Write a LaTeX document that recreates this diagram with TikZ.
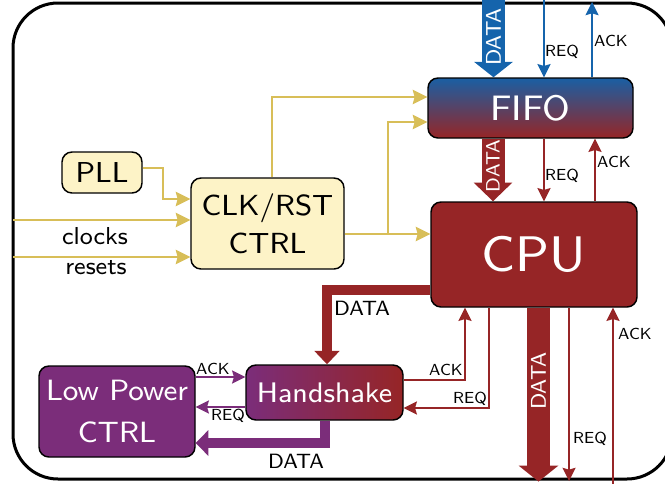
\documentclass[tikz,border=0pt]{standalone}
\usepackage{fontspec}
\setsansfont{lmsans8-regular.otf}
\usetikzlibrary{arrows.meta}
\definecolor{cpured}{HTML}{962526}
\definecolor{fifoblue}{HTML}{1A5FA3}
\definecolor{arrblue}{HTML}{1564AC}
\definecolor{lppurple}{HTML}{7B2D7A}
\definecolor{ylwline}{HTML}{D8BE58}
\definecolor{ylwfill}{HTML}{FDF3C7}
\newcommand{\fs}[2]{\fontsize{#1}{#2}\selectfont}
\begin{document}
\begin{tikzpicture}[x=0.75pt,y=-0.75pt,font=\sffamily,
  box/.style={draw=black,line width=1.1pt,rounded corners=7.5pt,inner sep=0pt,align=center},
  thin/.style={line width=1.7pt,-{Stealth[length=10pt,width=10pt,inset=1.5pt,line width=0pt]}},
  ylw/.style={draw=ylwline,line width=2pt,-{Stealth[length=11pt,width=11pt,inset=1.5pt,line width=0pt]}},
  lbl/.style={font=\sffamily\fs{12}{14},inner sep=0pt},
  wlbl/.style={text=white,rotate=90,inner sep=0pt},
]
\useasboundingbox (0,0) rectangle (665,483);
% outer frame
\draw[line width=2.25pt,rounded corners=33.75pt] (13,3) rectangle (672,479);

% nodes
\node[box,top color=fifoblue,bottom color=cpured,minimum width=153.75pt,minimum height=45pt,
      text=white,font=\sffamily\fs{26.5}{30}] (fifo) at (530.5,108) {FIFO};
\node[box,fill=cpured,minimum width=154.5pt,minimum height=78.75pt,
      text=white,font=\sffamily\fs{37.5}{44}] (cpu) at (534,254.5) {CPU};
\node[box,fill=ylwfill,minimum width=114.75pt,minimum height=68.25pt,
      font=\sffamily\fs{21.8}{28.5}] (clk) at (267.5,223.5) {CLK/RST\\CTRL};
\node[box,fill=ylwfill,minimum width=60pt,minimum height=30.75pt,
      font=\sffamily\fs{21.6}{26}] (pll) at (102,172.5) {PLL};
\node[box,left color=lppurple,right color=cpured,minimum width=117.75pt,minimum height=41.25pt,
      text=white,font=\sffamily\fs{21.2}{26}] (hs) at (324.5,392.5) {Handshake};
\node[box,fill=lppurple,minimum width=117pt,minimum height=68.25pt,
      text=white,font=\sffamily\fs{22}{31}] (lp) at (117,411.5) {Low Power\\CTRL};

% free ends and turning points
\coordinate (bdtop) at (493.5,-2);
\coordinate (breqtop) at (544,-2);
\coordinate (backtop) at (592,2);
\coordinate (fdata) at (493,0);
\coordinate (freq) at (544,0);
\coordinate (fack) at (595,0);
\coordinate (cbdata) at (538.5,481.5);
\coordinate (cbreq) at (569,481);
\coordinate (cback) at (613,485);
\coordinate (dturn) at (327,290);
\coordinate (ackturn) at (465,380);
\coordinate (reqturn) at (489,408);
\coordinate (pdturn) at (325,443);
\coordinate (pack) at (0,377);
\coordinate (preq) at (0,407);
\coordinate (clkin) at (13,220);
\coordinate (rstin) at (13,257);
\coordinate (pllout) at (0,168);
\coordinate (pllturn) at (163,199);
\coordinate (ftop) at (272,97);
\coordinate (jn) at (388,234);
\coordinate (jup) at (388,122);

% yellow clock/reset connections
\draw[ylw] (pll.east |- pllout) -| (pllturn) -- (clk.west |- pllturn);
\draw[ylw] (clkin) -- (clk.west |- clkin);
\draw[ylw] (rstin) -- (clk.west |- rstin);
\draw[ylw] (clk.north -| ftop) |- (fifo.west |- ftop);
\draw[ylw] (clk.east |- jn) -- (cpu.west |- jn);
\draw[ylw] (jn) -- (jup) -- (fifo.west |- jup);
\node[font=\sffamily\fs{18.4}{20},inner sep=0pt] (lclk) at (95,236) {clocks};
\node[font=\sffamily\fs{18.4}{20},inner sep=0pt] (lrst) at (96,268) {resets};

% blue FIFO input side
\draw[arrblue,line width=17.25pt,-{Triangle[width=29pt,length=11.5pt,line width=0pt]}] (bdtop) -- (fifo.north -| bdtop);
\node[wlbl,font=\sffamily\fs{16}{16}] (lbd) at (493.5,37) {DATA};
\draw[arrblue,thin] (breqtop) -- (fifo.north -| breqtop);
\draw[arrblue,thin] (fifo.north -| backtop) -- (backtop);
\node[lbl] (lbreq) at (562,52) {REQ};
\node[lbl] (lback) at (611,41) {ACK};

% FIFO to CPU
\draw[cpured,line width=17.25pt,-{Triangle[width=29pt,length=14pt,line width=0pt]}] (fifo.south -| fdata) -- (cpu.north -| fdata);
\node[wlbl,font=\sffamily\fs{14.5}{16}] (lfd) at (493,166) {DATA};
\draw[cpured,thin] (fifo.south -| freq) -- (cpu.north -| freq);
\draw[cpured,thin] (cpu.north -| fack) -- (fifo.south -| fack);
\node[lbl] (lfreq) at (562,176) {REQ};
\node[lbl] (lfack) at (614,162) {ACK};

% CPU to handshake
\draw[cpured,line width=7.5pt,line join=miter,-{Triangle[width=19pt,length=10pt,line width=0pt]}] (cpu.west |- dturn) -| (hs.north -| dturn);
\node[font=\sffamily\fs{15.5}{18},inner sep=0pt] (lcd) at (362,308) {DATA};
\draw[cpured,thin] (hs.east |- ackturn) -| (cpu.south -| ackturn);
\draw[cpured,thin] (cpu.south -| reqturn) |- (hs.east |- reqturn);
\node[lbl] (lhack) at (446,370) {ACK};
\node[lbl] (lhreq) at (470,399) {REQ};

% CPU bottom side
\draw[cpured,line width=17.25pt,-{Triangle[width=30pt,length=12pt,line width=0pt]}] (cpu.south -| cbdata) -- (cbdata);
\node[wlbl,font=\sffamily\fs{16}{18}] (lcbd) at (538.5,381) {DATA};
\draw[cpured,thin] (cpu.south -| cbreq) -- (cbreq);
\draw[cpured,thin] (cback) -- (cpu.south -| cback);
\node[lbl] (lcbreq) at (590,439) {REQ};
\node[lbl] (lcback) at (635,334) {ACK};

% handshake to low power
\draw[lppurple,thin] (lp.east |- pack) -- (hs.west |- pack);
\draw[lppurple,thin] (hs.west |- preq) -- (lp.east |- preq);
\node[lbl] (lpack) at (213,369) {ACK};
\node[lbl] (lpreq) at (228,416) {REQ};
\draw[lppurple,line width=8pt,line join=miter,-{Triangle[width=19.5pt,length=9.5pt,line width=0pt]}] (hs.south -| pdturn) |- (lp.east |- pdturn);
\node[font=\sffamily\fs{15.5}{18},inner sep=0pt] (lpd) at (296,461) {DATA};
\end{tikzpicture}
\end{document}
